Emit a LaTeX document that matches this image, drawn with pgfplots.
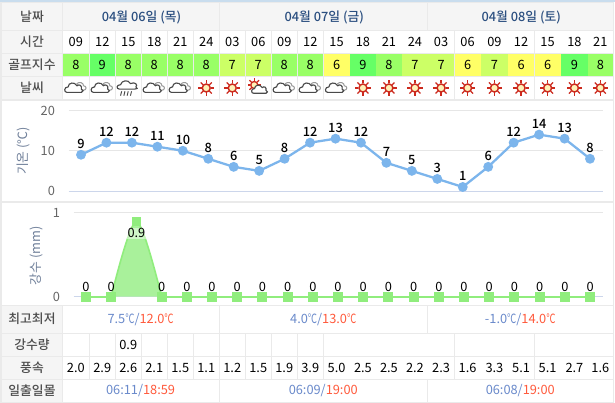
\documentclass[border=0pt]{standalone}
\usepackage{pgfplots}
\pgfplotsset{compat=1.18}
\usepackage{fontspec}
\setmainfont{Noto Sans CJK KR}[BoldFont={Noto Sans CJK KR Medium}]
\definecolor{topc}{HTML}{C9DDEE}
\definecolor{gapc}{HTML}{EAEAEA}
\definecolor{labc}{HTML}{F5F5F5}
\definecolor{g6}{HTML}{FFFF66}
\definecolor{g7}{HTML}{CCFF66}
\definecolor{g8}{HTML}{99FF66}
\definecolor{g9}{HTML}{66FF66}
\definecolor{hdr}{HTML}{2B4F80}
\definecolor{labt}{HTML}{4D4D4D}
\definecolor{bluet}{HTML}{6A8ACB}
\definecolor{redt}{HTML}{FF5A3C}
\definecolor{tline}{HTML}{7CB5EC}
\definecolor{rline}{HTML}{90ED7D}
\definecolor{rfill}{HTML}{A9F19B}
\definecolor{gridc}{HTML}{E6E6E6}
\definecolor{basec}{HTML}{CCD6EB}
\definecolor{axt}{HTML}{666666}
\definecolor{axtitle}{HTML}{6F7F99}
\definecolor{sunr}{HTML}{CC2A1E}
\definecolor{sunc}{HTML}{FFF2B8}
\definecolor{cl}{HTML}{4A4A4A}
\definecolor{clb}{HTML}{9A9A9A}
\newcommand{\fs}{\fontsize{9.6}{11}\selectfont}
\newcommand{\fb}{\fontsize{9.6}{11}\selectfont\bfseries}
\newcommand{\dg}{\scalebox{0.72}[1]{℃}}
\newcommand{\iconsun}[2]{\begin{scope}[shift={(#1,#2)}]
 \foreach \r in {0,45,...,315}{\draw[sunr,line width=0.95pt,rotate=\r] (4.5,0)--(7.8,0);}
 \draw[sunr,fill=sunc,line width=1.1pt] (0,0) circle (4);
\end{scope}}
\newcommand{\cloudpath}{(-8,4) .. controls (-11,4) and (-11,-1) .. (-7,-1) .. controls (-7,-5) and (-1,-6) .. (1,-2) .. controls (3,-4) and (6,-2) .. (5,1) .. controls (7,1) and (7,4) .. (5,4) -- cycle}
\newcommand{\iconcloud}[2]{\begin{scope}[shift={(#1,#2)},scale=1.1]
 \draw[clb,fill=white,line width=0.75pt] (1,-4) .. controls (3,-6) and (7,-5) .. (7,-2) .. controls (10,-2) and (10,2) .. (7,2) -- (3,2) -- cycle;
 \draw[cl,fill=white,line width=0.85pt] \cloudpath;
\end{scope}}
\newcommand{\iconrain}[2]{\begin{scope}[shift={(#1,#2)},scale=1.1]
 \draw[cl,fill=white,line width=0.85pt] (-8,1) .. controls (-11,1) and (-11,-3) .. (-7,-3) .. controls (-6,-7) and (0,-8) .. (2,-4) .. controls (6,-6) and (9,-3) .. (7,-1) .. controls (9,0) and (8,1) .. (6,1) -- cycle;
 \foreach \q in {-6,-3,0,3}{\draw[cl,line width=0.7pt] (\q,3)--(\q-1,7);}
\end{scope}}
\newcommand{\iconsuncloud}[2]{\begin{scope}[shift={(#1,#2)}]
 \begin{scope}[shift={(-4,-3)},scale=0.9]
 \foreach \r in {0,45,...,315}{\draw[sunr,line width=0.85pt,rotate=\r] (4.5,0)--(7.5,0);}
 \draw[sunr,fill=sunc,line width=1pt] (0,0) circle (3.9);
 \end{scope}
 \begin{scope}[shift={(3,1.5)},scale=0.95]
 \draw[cl,fill=white,line width=0.85pt] \cloudpath;
 \end{scope}
\end{scope}}
\begin{document}
\begin{tikzpicture}[x=0.75pt,y=-0.75pt]
\path[use as bounding box] (0,0) rectangle (615,403);
\fill[white] (0,0) rectangle (615,403);
\fill[topc] (0,0) rectangle (615,2.5);
\fill[gapc] (0.5,2.5) rectangle (614,402.5);
% label cells
\foreach \ya/\yb/\lb in {3/30/날짜,31/53/시간,53.7/76/골프지수,77/98.7/날씨,305.7/332.7/최고최저,334/355.7/강수량,357/379/풍속,380/401.7/일출일몰}{
 \fill[labc] (2,\ya) rectangle (62,\yb);
 \node[font=\fb,text=labt,inner sep=0] at (32,{(\ya+\yb)/2}) {\lb};
}
% merged cells
\foreach \xa/\xb/\tx in {62.7/218.5/04월 06일 (목),219.5/427/04월 07일 (금),428/612.5/04월 08일 (토)}{
 \fill[labc] (\xa,3) rectangle (\xb,30);
 \node[font=\fb,text=hdr,inner sep=0] at ({(\xa+\xb)/2+1},17) {\tx};
}
\foreach \xa/\xb/\lo/\hi/\up/\dn in {62.7/218.5/7.5/12.0/06:11/18:59,219.5/427/4.0/13.0/06:09/19:00,428/612.5/-1.0/14.0/06:08/19:00}{
 \fill[white] (\xa,305.7) rectangle (\xb,332.7);
 \fill[white] (\xa,380) rectangle (\xb,401.7);
 \node[font=\fs,inner sep=0] at ({(\xa+\xb)/2},319.5) {\textcolor{bluet}{\lo\dg/}\textcolor{redt}{\hi\dg}};
 \node[font=\fs,inner sep=0] at ({(\xa+\xb)/2},391) {\textcolor{bluet}{\up/}\textcolor{redt}{\dn}};
}
% hourly cells: left / right / time / golf index / weather / rain / wind
\foreach \xa/\xb/\tm/\gf/\ic/\rn/\ws in {
 62.7/89/09/8/cloud//2.0,89.5/115/12/9/cloud//2.9,115.5/141/15/8/rain/0.9/2.6,141.5/167/18/8/cloud//2.1,
 167.5/193/21/8/cloud//1.5,193.5/219/24/8/sun//1.1,219.5/245/03/7/sun//1.2,245.5/271/06/7/suncloud//1.5,
 271.5/297/09/8/cloud//1.9,297.5/323/12/8/cloud//3.9,323.5/349.7/15/6/cloud//5.0,350.2/375.7/18/9/sun//2.5,
 376.2/401.7/21/8/sun//2.5,402.2/427.7/24/7/sun//2.2,428.2/454/03/7/sun//2.3,454.5/480.7/06/6/sun//1.6,
 481.2/507.7/09/7/sun//3.3,508.2/534/12/6/sun//5.1,534.5/560.7/15/6/sun//5.1,561.2/587.7/18/9/sun//2.7,588.2/612.5/21/8/sun//1.6}{
 \pgfmathsetmacro{\cx}{(\xa+\xb)/2}
 \fill[white] (\xa,31) rectangle (\xb,53);
 \node[font=\fs,text=black,inner sep=0] at (\cx,42) {\tm};
 \fill[g\gf] (\xa,53.7) rectangle (\xb,76);
 \node[font=\fs,text=black,inner sep=0] at (\cx,65) {\gf};
 \fill[white] (\xa,77) rectangle (\xb,98.7);
 \csname icon\ic\endcsname{\cx}{88}
 \fill[white] (\xa,334) rectangle (\xb,355.7);
 \node[font=\fs,text=black,inner sep=0] at (\cx,345) {\rn};
 \fill[white] (\xa,357) rectangle (\xb,379);
 \node[font=\fs,text=black,inner sep=0] at (\cx,368) {\ws};
}
% chart panels
\fill[white] (2,101) rectangle (613,200.7);
\fill[white] (2,202.7) rectangle (613,305);
\node[font=\fs,text=axtitle,rotate=90,inner sep=0] at (23,151) {기온 (℃)};
\node[font=\fs,text=axtitle,rotate=90,inner sep=0] at (36,256) {강수 (mm)};
% temperature
\begin{axis}[at={(51.75pt,-143.25pt)},anchor=south west,scale only axis,width=400.3pt,height=60.4pt,
 xmin=-0.4715,xmax=20.5,ymin=0,ymax=20,clip=false,
 axis x line=bottom,axis y line=left,axis line style={-},
 x axis line style={draw=basec,line width=0.75pt},y axis line style={draw=none},
 xtick=\empty,ytick={0,10,20},ymajorgrids,grid style={gridc,line width=0.75pt},major tick length=0pt,
 /pgf/number format/assume math mode=true,
 tick label style={font=\fs,text=axt},y tick label style={xshift=-7pt},
 nodes near coords,
 every node near coord/.append style={font=\fs\bfseries,text=black,inner sep=0pt,yshift=4pt}]
\addplot[tline,line width=1.7pt,mark=*,mark size=2.8pt,mark options={fill=tline,draw=tline}] coordinates {
 (0,9)(1,12)(2,12)(3,11)(4,10)(5,8)(6,6)(7,5)(8,8)(9,12)(10,13)(11,12)(12,7)(13,5)(14,3)(15,1)(16,6)(17,12)(18,14)(19,13)(20,8)};
\end{axis}
% precipitation
\begin{axis}[at={(55.5pt,-222.525pt)},anchor=south west,scale only axis,width=396.5pt,height=62.8pt,
 xmin=-0.476,xmax=20.5,ymin=0,ymax=1,clip=false,
 axis x line=bottom,axis y line=left,axis line style={-},
 x axis line style={draw=basec,line width=0.75pt},y axis line style={draw=none},
 xtick=\empty,ytick={0,1},ymajorgrids,grid style={gridc,line width=0.75pt},major tick length=0pt,
 /pgf/number format/assume math mode=true,unbounded coords=jump,
 tick label style={font=\fs,text=axt},y tick label style={xshift=-7pt}]
\addplot[draw=none,fill=rfill,smooth,tension=0.5] coordinates {(1,0)(2,0.9)(3,0)} \closedcycle;
\addplot[rline,line width=1.2pt,smooth,tension=0.5] coordinates {(1,0)(2,0.9)(3,0)};
\addplot[rline,line width=1.5pt,mark=square*,mark size=3pt,mark options={fill=rline,draw=rline},
 nodes near coords,every node near coord/.append style={font=\fs,text=black,inner sep=0pt,yshift=3.2pt}] coordinates {
 (0,0)(1,0)(2,nan)(3,0)(4,0)(5,0)(6,0)(7,0)(8,0)(9,0)(10,0)(11,0)(12,0)(13,0)(14,0)(15,0)(16,0)(17,0)(18,0)(19,0)(20,0)};
\addplot[only marks,mark=square*,mark size=3pt,mark options={fill=rline,draw=rline},
 nodes near coords,nodes near coords align={below},
 every node near coord/.append style={font=\fs,text=black,inner sep=0.6pt,yshift=-4.5pt,fill=white,fill opacity=0.45,text opacity=1}] coordinates {(2,0.9)};
\end{axis}
\end{tikzpicture}
\end{document}
